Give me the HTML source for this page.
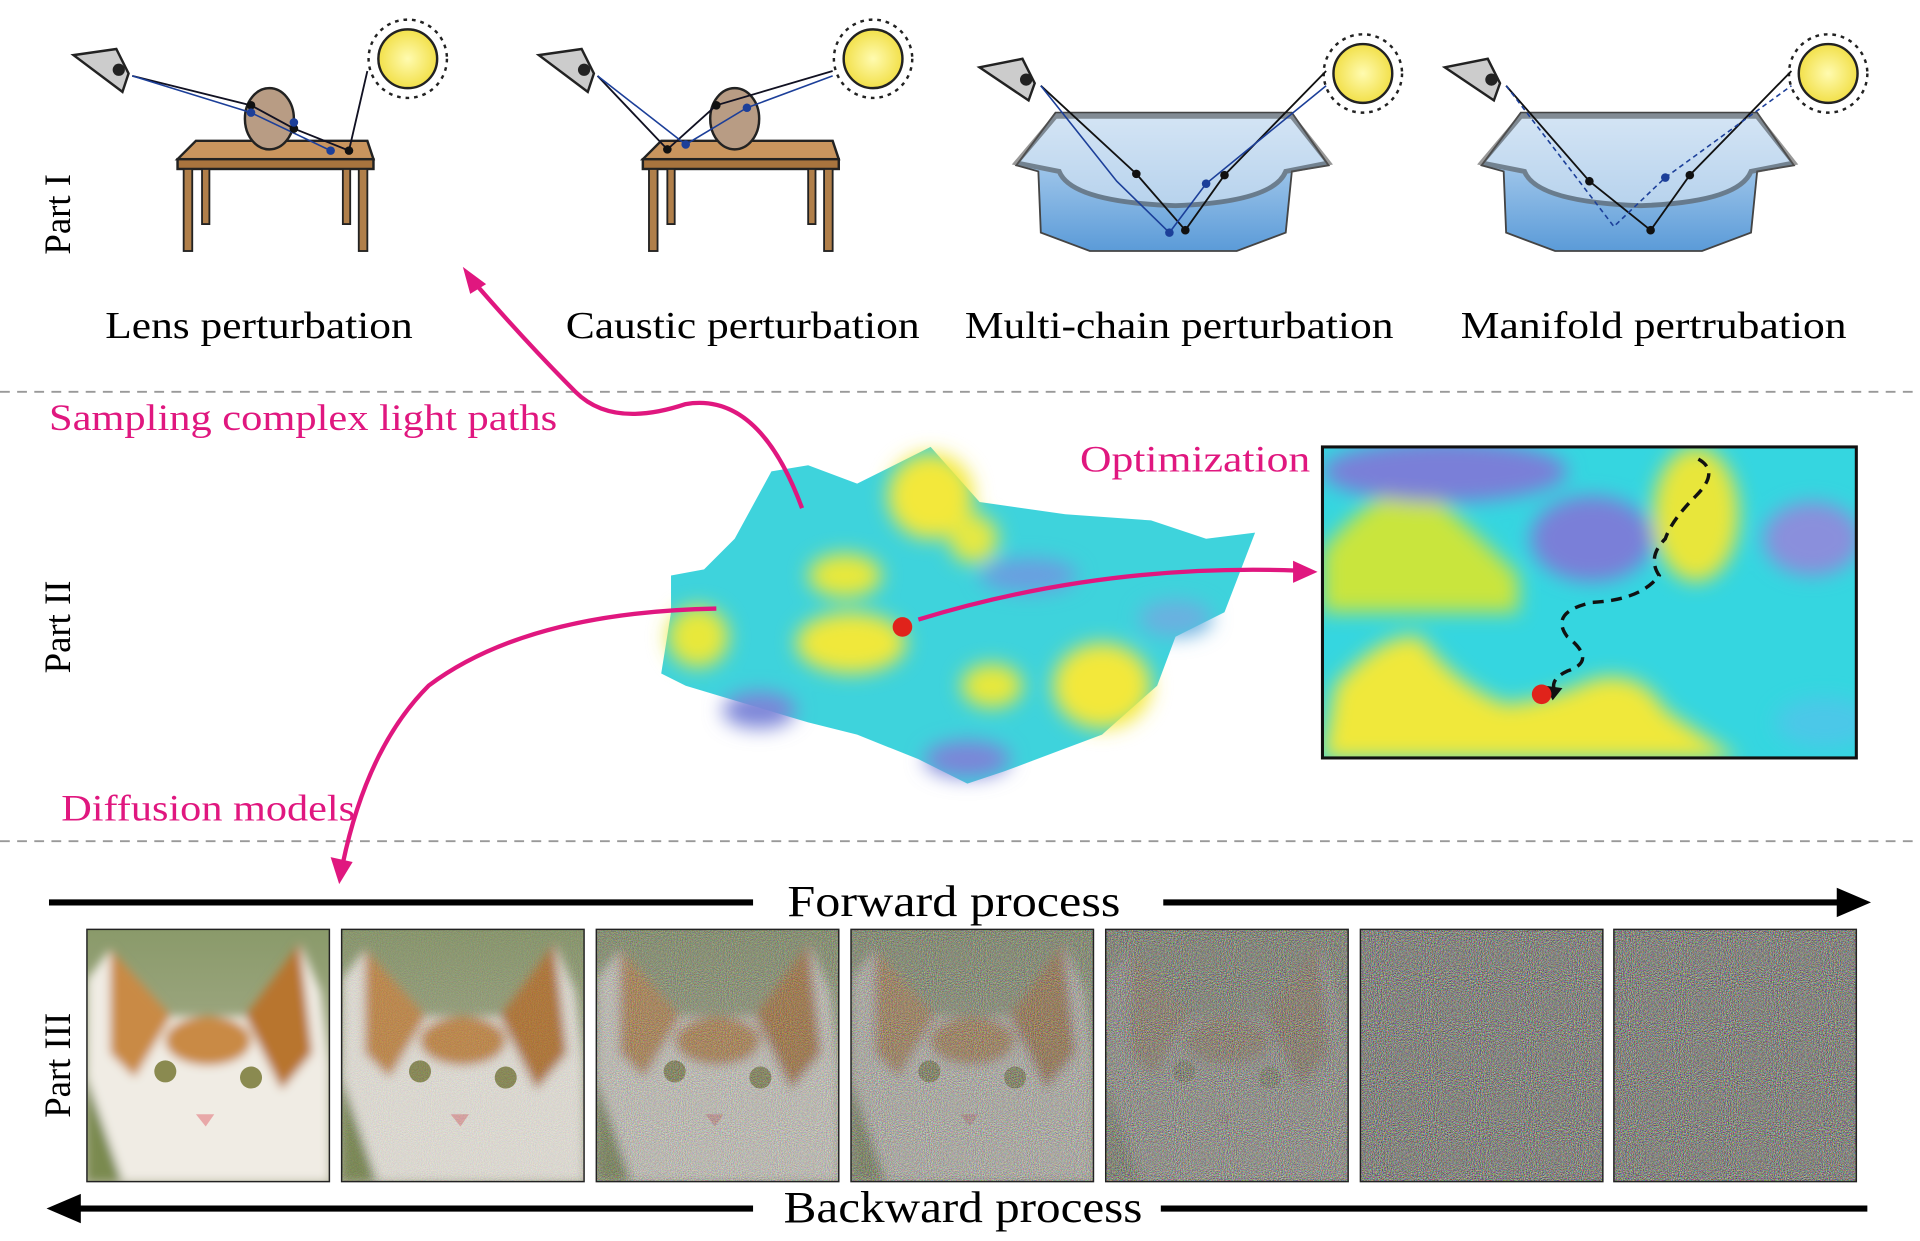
<!DOCTYPE html>
<html><head><meta charset="utf-8"><style>
html,body{margin:0;padding:0;background:#fff;width:1920px;height:1241px;overflow:hidden}
svg{display:block}
text{font-family:"Liberation Serif",serif}
</style></head><body>
<svg width="1920" height="1241" viewBox="0 0 1568 1013.5" preserveAspectRatio="none" xmlns="http://www.w3.org/2000/svg">
<defs>
<radialGradient id="sun"><stop offset="0" stop-color="#fffbb0"/><stop offset="1" stop-color="#f2e04a"/></radialGradient>
<linearGradient id="water" x1="0" y1="0" x2="0" y2="1"><stop offset="0" stop-color="#c9e0f5"/><stop offset="1" stop-color="#5b9bd8"/></linearGradient>
<linearGradient id="catbg" x1="0" y1="0" x2="0" y2="1"><stop offset="0" stop-color="#8a9a6a"/><stop offset="1" stop-color="#b8b8a0"/></linearGradient>
<filter id="noise" x="0" y="0" width="1" height="1" color-interpolation-filters="sRGB"><feTurbulence type="fractalNoise" baseFrequency="1.2" numOctaves="2" seed="3"/><feColorMatrix type="matrix" values="1.2 0 0 0 -0.08  0 1.2 0 0 -0.08  0 0 1.2 0 -0.1  0 0 0 0 1"/></filter>
<filter id="blur4"><feGaussianBlur stdDeviation="4"/></filter>
<filter id="blur8"><feGaussianBlur stdDeviation="8"/></filter>
<clipPath id="boxclip"><rect x="1080" y="365" width="436" height="254"/></clipPath>
<clipPath id="c1"><rect x="71" y="759" width="198" height="206"/></clipPath>
</defs>

<line x1="0" y1="320" x2="1568" y2="320" stroke="#999" stroke-width="1.5" stroke-dasharray="8,6"/>
<line x1="0" y1="687" x2="1568" y2="687" stroke="#999" stroke-width="1.5" stroke-dasharray="8,6"/>

<text transform="translate(57,175) rotate(-90)" font-size="30" text-anchor="middle">Part I</text>
<text transform="translate(57,512) rotate(-90)" font-size="30" text-anchor="middle">Part II</text>
<text transform="translate(57,870) rotate(-90)" font-size="30" text-anchor="middle">Part III</text>

<g>
 <polygon points="145,130 160,115 300,115 305,130" fill="#c9955e" stroke="#222" stroke-width="2"/>
 <rect x="145" y="130" width="160" height="8" fill="#a8743e" stroke="#222" stroke-width="2"/>
 <rect x="150" y="138" width="7" height="67" fill="#b07f4a" stroke="#222" stroke-width="1.5"/>
 <rect x="293" y="138" width="7" height="67" fill="#b07f4a" stroke="#222" stroke-width="1.5"/>
 <rect x="165" y="138" width="6" height="45" fill="#b07f4a" stroke="#222" stroke-width="1.5"/>
 <rect x="280" y="138" width="6" height="45" fill="#b07f4a" stroke="#222" stroke-width="1.5"/>
 <ellipse cx="220" cy="97" rx="20" ry="25" fill="#b89c84" stroke="#222" stroke-width="2"/>
 <polygon points="60,45 95,40 105,60 100,75" fill="#ccc" stroke="#222" stroke-width="2"/>
 <circle cx="97" cy="57" r="5" fill="#222"/>
 <circle cx="333" cy="48" r="24" fill="url(#sun)" stroke="#222" stroke-width="2"/>
 <circle cx="333" cy="48" r="32" fill="none" stroke="#222" stroke-width="2" stroke-dasharray="3,4"/>
 <polyline points="108,62 205,86 240,105 285,123 300,58" fill="none" stroke="#112" stroke-width="1.5"/>
 <polyline points="108,62 205,92 270,123" fill="none" stroke="#1c3f99" stroke-width="1.3"/>
 <circle cx="205" cy="86" r="3.5" fill="#111"/><circle cx="240" cy="105" r="3.5" fill="#111"/><circle cx="285" cy="123" r="3.5" fill="#111"/><circle cx="205" cy="92" r="3.5" fill="#1c3f99"/><circle cx="240" cy="100" r="3.5" fill="#1c3f99"/><circle cx="270" cy="123" r="3.5" fill="#1c3f99"/>
</g>
<g transform="translate(380,0)">
 <polygon points="145,130 160,115 300,115 305,130" fill="#c9955e" stroke="#222" stroke-width="2"/>
 <rect x="145" y="130" width="160" height="8" fill="#a8743e" stroke="#222" stroke-width="2"/>
 <rect x="150" y="138" width="7" height="67" fill="#b07f4a" stroke="#222" stroke-width="1.5"/>
 <rect x="293" y="138" width="7" height="67" fill="#b07f4a" stroke="#222" stroke-width="1.5"/>
 <rect x="165" y="138" width="6" height="45" fill="#b07f4a" stroke="#222" stroke-width="1.5"/>
 <rect x="280" y="138" width="6" height="45" fill="#b07f4a" stroke="#222" stroke-width="1.5"/>
 <ellipse cx="220" cy="97" rx="20" ry="25" fill="#b89c84" stroke="#222" stroke-width="2"/>
 <polygon points="60,45 95,40 105,60 100,75" fill="#ccc" stroke="#222" stroke-width="2"/>
 <circle cx="97" cy="57" r="5" fill="#222"/>
 <circle cx="333" cy="48" r="24" fill="url(#sun)" stroke="#222" stroke-width="2"/>
 <circle cx="333" cy="48" r="32" fill="none" stroke="#222" stroke-width="2" stroke-dasharray="3,4"/>
 <polyline points="108,62 165,122 205,86 300,58" fill="none" stroke="#112" stroke-width="1.5"/>
 <polyline points="108,62 180,118 230,88 300,62" fill="none" stroke="#1c3f99" stroke-width="1.3"/>
 <circle cx="165" cy="122" r="3.5" fill="#111"/><circle cx="205" cy="86" r="3.5" fill="#111"/><circle cx="180" cy="118" r="3.5" fill="#1c3f99"/><circle cx="230" cy="88" r="3.5" fill="#1c3f99"/>
</g>
<g>
 <polygon points="830,135 862,92 1055,92 1085,135 1055,140 1050,190 1010,205 890,205 850,190 848,140" fill="url(#water)" stroke="#444" stroke-width="1.5"/>
 <path d="M830,133 L862,95 L1055,95 L1085,133 L1050,140 Q1040,165 960,168 Q875,165 865,140 Z" fill="#dde9f5" opacity="0.6" stroke="#555" stroke-width="4"/>
 <polygon points="800,55 835,48 845,68 840,82" fill="#ccc" stroke="#222" stroke-width="2"/>
 <circle cx="838" cy="65" r="5" fill="#222"/>
 <circle cx="1113" cy="60" r="24" fill="url(#sun)" stroke="#222" stroke-width="2"/>
 <circle cx="1113" cy="60" r="32" fill="none" stroke="#222" stroke-width="2" stroke-dasharray="3,4"/>
 <polyline points="850,70 928,142 968,188 1000,143 1083,58" fill="none" stroke="#111" stroke-width="1.5"/>
 <polyline points="850,70 912,148 955,190 985,150 1083,70" fill="none" stroke="#1c3f99" stroke-width="1.3"/>
 <circle cx="928" cy="142" r="3.5" fill="#111"/><circle cx="968" cy="188" r="3.5" fill="#111"/><circle cx="1000" cy="143" r="3.5" fill="#111"/><circle cx="985" cy="150" r="3.5" fill="#1c3f99"/><circle cx="955" cy="190" r="3.5" fill="#1c3f99"/>
</g>
<g transform="translate(380,0)">
 <polygon points="830,135 862,92 1055,92 1085,135 1055,140 1050,190 1010,205 890,205 850,190 848,140" fill="url(#water)" stroke="#444" stroke-width="1.5"/>
 <path d="M830,133 L862,95 L1055,95 L1085,133 L1050,140 Q1040,165 960,168 Q875,165 865,140 Z" fill="#dde9f5" opacity="0.6" stroke="#555" stroke-width="4"/>
 <polygon points="800,55 835,48 845,68 840,82" fill="#ccc" stroke="#222" stroke-width="2"/>
 <circle cx="838" cy="65" r="5" fill="#222"/>
 <circle cx="1113" cy="60" r="24" fill="url(#sun)" stroke="#222" stroke-width="2"/>
 <circle cx="1113" cy="60" r="32" fill="none" stroke="#222" stroke-width="2" stroke-dasharray="3,4"/>
 <polyline points="850,70 918,148 968,188 1000,143 1083,58" fill="none" stroke="#111" stroke-width="1.5"/>
 <polyline points="850,70 938,185 980,145 1083,70" fill="none" stroke="#1c3f99" stroke-width="1.3" stroke-dasharray="4,3"/>
 <circle cx="918" cy="148" r="3.5" fill="#111"/><circle cx="968" cy="188" r="3.5" fill="#111"/><circle cx="1000" cy="143" r="3.5" fill="#111"/><circle cx="980" cy="145" r="3.5" fill="#1c3f99"/>
</g>

<text x="86" y="276" font-size="31" textLength="251" lengthAdjust="spacingAndGlyphs">Lens perturbation</text>
<text x="462" y="276" font-size="31" textLength="289" lengthAdjust="spacingAndGlyphs">Caustic perturbation</text>
<text x="788" y="276" font-size="31" textLength="350" lengthAdjust="spacingAndGlyphs">Multi-chain perturbation</text>
<text x="1193" y="276" font-size="31" textLength="315" lengthAdjust="spacingAndGlyphs">Manifold pertrubation</text>

<text x="40" y="351" font-size="30" fill="#e0177f" textLength="415" lengthAdjust="spacingAndGlyphs">Sampling complex light paths</text>
<text x="882" y="385" font-size="30" fill="#e0177f" textLength="188" lengthAdjust="spacingAndGlyphs">Optimization</text>
<text x="50" y="670" font-size="30" fill="#e0177f" textLength="240" lengthAdjust="spacingAndGlyphs">Diffusion models</text>

<g>
 <path d="M548,470 L575,465 L600,440 L630,385 L660,380 L700,395 L760,365 L800,410 L870,420 L940,425 L985,440 L1025,435 L1000,500 L960,520 L945,560 L900,600 L860,615 L820,630 L790,640 L750,620 L700,600 L660,590 L610,575 L560,560 L540,550 L548,500 Z" fill="#3ed3dc"/>
 <g filter="url(#blur8)">
  <ellipse cx="760" cy="405" rx="35" ry="35" fill="#f3e83a"/>
  <ellipse cx="690" cy="470" rx="30" ry="18" fill="#e8e83a"/>
  <ellipse cx="795" cy="440" rx="20" ry="20" fill="#e5e843"/>
  <ellipse cx="570" cy="520" rx="25" ry="25" fill="#e8e83a"/>
  <ellipse cx="695" cy="525" rx="45" ry="25" fill="#f0e83a"/>
  <ellipse cx="900" cy="560" rx="40" ry="35" fill="#f3e83a"/>
  <ellipse cx="810" cy="560" rx="25" ry="18" fill="#e8e83a"/>
  <ellipse cx="620" cy="580" rx="30" ry="15" fill="#7b85d8"/>
  <ellipse cx="790" cy="620" rx="35" ry="15" fill="#7b85d8"/>
  <ellipse cx="960" cy="505" rx="30" ry="15" fill="#6ab0e0"/>
  <ellipse cx="840" cy="470" rx="40" ry="14" fill="#6a9ee0"/>
 </g>
</g>

<g clip-path="url(#boxclip)">
 <rect x="1080" y="365" width="436" height="254" fill="#35d6e0"/>
 <g filter="url(#blur8)">
  <path d="M1080,450 Q1120,400 1160,395 Q1210,440 1240,470 L1240,500 L1080,500 Z" fill="#c9e53c"/>
  <ellipse cx="1385" cy="420" rx="35" ry="55" fill="#e8e63a"/>
  <path d="M1080,620 L1090,560 Q1130,515 1160,520 Q1190,560 1230,575 Q1270,570 1300,555 Q1340,545 1360,580 L1420,620 Z" fill="#f0e83a"/>
  <ellipse cx="1180" cy="385" rx="100" ry="25" fill="#7a7fd8"/>
  <ellipse cx="1300" cy="440" rx="50" ry="35" fill="#7a7fd8"/>
  <ellipse cx="1480" cy="440" rx="40" ry="30" fill="#8a8fdc"/>
  <ellipse cx="1490" cy="590" rx="40" ry="20" fill="#4bc8e8"/>
 </g>
</g>
<rect x="1080" y="365" width="436" height="254" fill="none" stroke="#111" stroke-width="2.5"/>
<path d="M1387,375 Q1405,385 1385,405 Q1365,425 1360,440 Q1345,455 1355,470 Q1340,490 1300,492 Q1265,500 1280,520 Q1305,540 1280,548 Q1265,555 1270,565" fill="none" stroke="#111" stroke-width="2.8" stroke-dasharray="9,6"/>
<polygon points="1268,572 1262,560 1276,562" fill="#111"/>
<circle cx="1259" cy="567" r="8" fill="#e0231b"/>
<circle cx="737" cy="512" r="8" fill="#e0231b"/>

<path d="M655,415 Q620,320 560,330 Q500,350 470,320 Q430,280 385,228" fill="none" stroke="#e0177f" stroke-width="3.5"/>
<polygon points="378,218 397,232 384,240" fill="#e0177f"/>
<path d="M750,506 Q900,460 1060,466" fill="none" stroke="#e0177f" stroke-width="3.5"/>
<polygon points="1076,467 1056,458 1056,476" fill="#e0177f"/>
<path d="M585,497 Q430,500 350,560 Q300,610 280,705" fill="none" stroke="#e0177f" stroke-width="3.5"/>
<polygon points="277,722 270,700 288,704" fill="#e0177f"/>

<line x1="40" y1="737" x2="615" y2="737" stroke="#000" stroke-width="5"/>
<text x="643" y="748" font-size="36" textLength="272" lengthAdjust="spacingAndGlyphs">Forward process</text>
<line x1="950" y1="737" x2="1508" y2="737" stroke="#000" stroke-width="5"/>
<polygon points="1528,737 1500,725 1500,749" fill="#000"/>
<line x1="60" y1="987" x2="615" y2="987" stroke="#000" stroke-width="5"/>
<polygon points="38,987 66,975 66,999" fill="#000"/>
<text x="640" y="998" font-size="36" textLength="293" lengthAdjust="spacingAndGlyphs">Backward process</text>
<line x1="948" y1="987" x2="1525" y2="987" stroke="#000" stroke-width="5"/>

<g id="cat" clip-path="url(#c1)">
 <rect x="71" y="759" width="198" height="206" fill="url(#catbg)"/>
 <g filter="url(#blur4)">
 <path d="M71,800 L90,775 L140,830 L200,830 L245,770 L262,810 L269,870 L269,965 L71,965 Z" fill="#f0ece4"/>
 <path d="M90,775 L140,830 L110,880 L90,860 Z" fill="#c98a45"/>
 <path d="M245,770 L200,830 L230,890 L255,860 Z" fill="#b8752f"/>
 <ellipse cx="170" cy="850" rx="35" ry="20" fill="#c98a45"/>
 <path d="M71,880 L71,965 L100,965 Z" fill="#7a8a50"/>
 </g>
 <circle cx="135" cy="875" r="9" fill="#8a8a50"/><circle cx="205" cy="880" r="9" fill="#8a8a50"/>
 <path d="M160,910 L175,910 L168,920 Z" fill="#e8a8a8"/>
</g>
<use href="#cat" transform="translate(208,0)"/>
<rect x="279" y="759" width="198" height="206" filter="url(#noise)" opacity="0.2"/>
<use href="#cat" transform="translate(416,0)"/>
<rect x="487" y="759" width="198" height="206" filter="url(#noise)" opacity="0.5"/>
<use href="#cat" transform="translate(624,0)"/>
<rect x="695" y="759" width="198" height="206" filter="url(#noise)" opacity="0.65"/>
<use href="#cat" transform="translate(832,0)"/>
<rect x="903" y="759" width="198" height="206" filter="url(#noise)" opacity="0.88"/>
<rect x="1111" y="759" width="198" height="206" filter="url(#noise)"/>
<rect x="1318" y="759" width="198" height="206" filter="url(#noise)"/>
<g fill="none" stroke="#222" stroke-width="1.2">
 <rect x="71" y="759" width="198" height="206"/><rect x="279" y="759" width="198" height="206"/><rect x="487" y="759" width="198" height="206"/><rect x="695" y="759" width="198" height="206"/><rect x="903" y="759" width="198" height="206"/><rect x="1111" y="759" width="198" height="206"/><rect x="1318" y="759" width="198" height="206"/>
</g>
</svg>
</body></html>
